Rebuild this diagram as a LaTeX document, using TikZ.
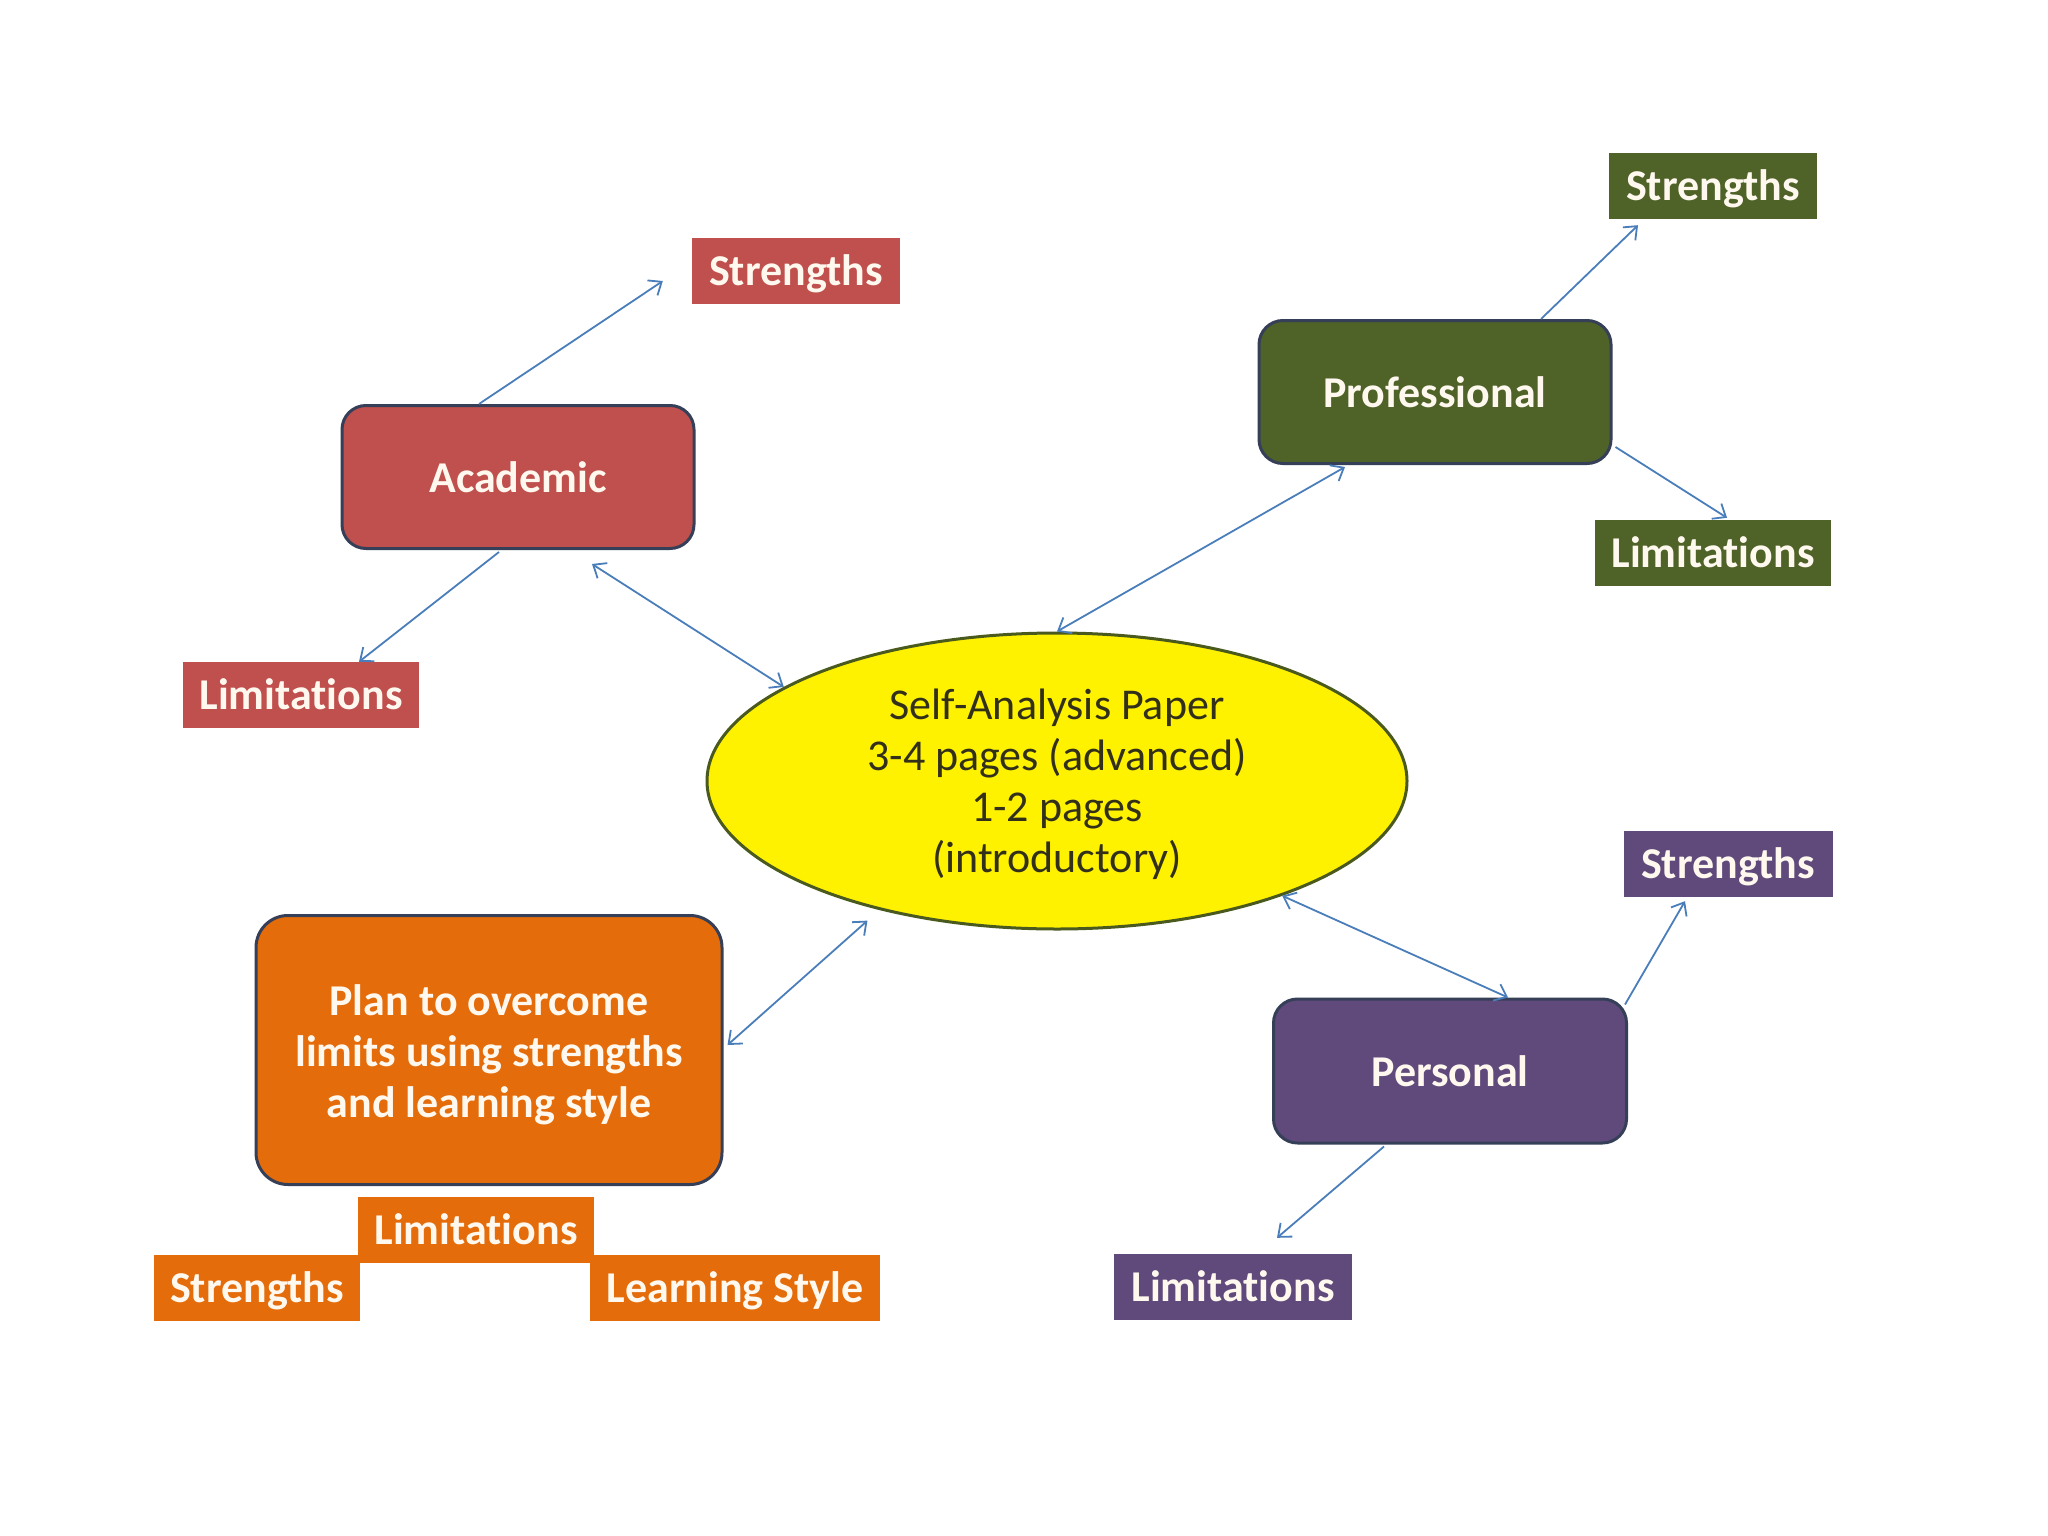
\documentclass[tikz,border=0pt]{standalone}
\usepackage{fontspec}
\setmainfont{Carlito}[Ligatures=NoCommon]
\usetikzlibrary{shapes.geometric,arrows.meta}
\definecolor{acadred}{HTML}{C0504D}
\definecolor{profgreen}{HTML}{4F6228}
\definecolor{perspurple}{HTML}{604A7B}
\definecolor{planorange}{HTML}{E46C0A}
\definecolor{arrowblue}{HTML}{4A7EBB}
\definecolor{boxedge}{HTML}{363F58}
\definecolor{elledge}{HTML}{4A5A1E}
\definecolor{elltext}{HTML}{33301A}
\definecolor{paletext}{HTML}{FFF8EE}
\begin{document}
\begin{tikzpicture}[x=1pt,y=-1pt,
  mainbox/.style={rounded corners=24pt, draw=boxedge, line width=3pt, text=paletext,
    font=\fontsize{44}{51}\selectfont\bfseries, minimum width=352pt, minimum height=143pt,
    inner sep=0pt, align=center},
  tagbox/.style={text=paletext, font=\fontsize{44}{51}\selectfont\bfseries,
    minimum height=66pt, inner sep=0pt, text height=38pt, text depth=9pt},
  link/.style={draw=arrowblue, line width=1.8pt,
    -{Straight Barb[length=11pt,width=18pt,line width=1.8pt]}},
  link2/.style={draw=arrowblue, line width=1.8pt,
    {Straight Barb[length=11pt,width=18pt,line width=1.8pt]}-{Straight Barb[length=11pt,width=18pt,line width=1.8pt]}},
]
\useasboundingbox (0,0) rectangle (2048,1536);
\fill[white] (0,0) rectangle (2048,1536);

% central ellipse
\node[ellipse, draw=elledge, fill=yellow, line width=3pt, minimum width=700pt,
  minimum height=296pt, inner sep=0pt, text=elltext,
  font=\fontsize{44}{51}\selectfont, align=center] (ell) at (1057,781)
  {\rule{0pt}{38pt}Self-Analysis Paper\\3-4 pages (advanced)\\1-2 pages\\(introductory)};

% Academic
\node[mainbox, fill=acadred] (acad) at (518,477) {Academic};
\node[tagbox, fill=acadred, minimum width=208pt] (acadS) at (796,271) {Strengths};
\node[tagbox, fill=acadred, minimum width=236pt] (acadL) at (301,695) {Limitations};

% Professional
\node[mainbox, fill=profgreen] (prof) at (1435,392) {Professional};
\node[tagbox, fill=profgreen, minimum width=208pt] (profS) at (1713,186) {Strengths};
\node[tagbox, fill=profgreen, minimum width=236pt] (profL) at (1713,553) {Limitations};

% Personal
\node[mainbox, fill=perspurple, minimum width=353pt, minimum height=144pt] (pers) at (1450,1071) {Personal};
\node[tagbox, fill=perspurple, minimum width=209pt] (persS) at (1728,864) {Strengths};
\node[tagbox, fill=perspurple, minimum width=238pt] (persL) at (1233,1287) {Limitations};

% Plan
\node[mainbox, fill=planorange, rounded corners=32pt, minimum width=466pt,
  minimum height=269pt] (plan) at (489,1050)
  {\rule{0pt}{40pt}Plan to overcome\\limits using strengths\\and learning style};
\node[tagbox, fill=planorange, minimum width=236pt] (planL) at (476,1230) {Limitations};
\node[tagbox, fill=planorange, minimum width=206pt] (planS) at (257,1288) {Strengths};
\node[tagbox, fill=planorange, minimum width=290pt] (planLS) at (735,1288) {Learning Style};

% connectors
\draw[link] ([xshift=-39pt]acad.north) -- ([xshift=-29pt,yshift=-10pt]acadS.west);
\draw[link] ([xshift=-19pt,yshift=-2pt]acad.south) -- ([xshift=58pt]acadL.north);
\draw[link2] ([xshift=74pt,yshift=-14pt]acad.south) -- (ell.161);
\draw[link2] ([xshift=-90pt,yshift=-2pt]prof.south) -- (ell.north);
\draw[link] ([xshift=106pt]prof.north) -- ([xshift=-75pt,yshift=-6pt]profS.south);
\draw[link] ([xshift=3pt,yshift=18pt]prof.south east) -- ([xshift=14pt,yshift=2pt]profL.north);
\draw[link2] (ell.-27) -- ([xshift=58pt]pers.north);
\draw[link] ([xshift=-3pt,yshift=-7pt]pers.north east) -- ([xshift=-43pt,yshift=-4pt]persS.south);
\draw[link] ([xshift=-66pt,yshift=-2pt]pers.south) -- ([xshift=44pt,yshift=16pt]persL.north);
\draw[link2, shorten >=16pt] ([xshift=4pt,yshift=5pt]plan.east) -- (ell.216);
\end{tikzpicture}
\end{document}
